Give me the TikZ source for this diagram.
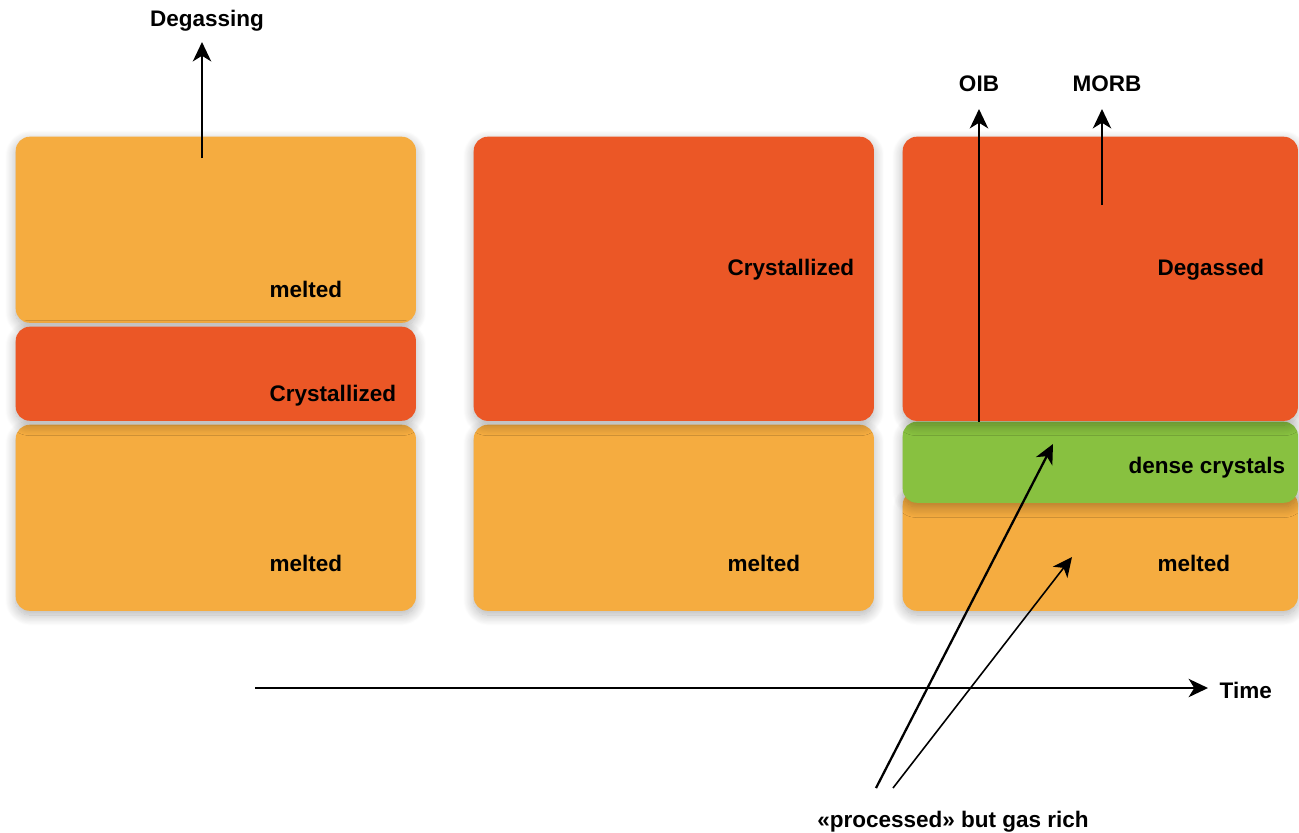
\documentclass[tikz,border=0pt]{standalone}
\usepackage{fontspec}
\setmainfont{Liberation Sans}
\usetikzlibrary{arrows.meta,shadows.blur}

\definecolor{meltorange}{HTML}{F5AC40}
\definecolor{crystred}{HTML}{EB5726}
\definecolor{densegreen}{HTML}{88C140}

\begin{document}
\begin{tikzpicture}[x=0.01cm, y=-0.01cm,
  every node/.style={font=\fontsize{6.4}{8}\selectfont\bfseries},
  layer/.style={rectangle, rounded corners=4pt, inner sep=0pt, anchor=north west,
    minimum width=4cm, blur shadow={shadow xshift=0pt, shadow yshift=-1.2pt,
    shadow blur steps=14, shadow blur radius=3pt, shadow opacity=30}},
  tag/.style={anchor=west, inner sep=0pt},
  flow/.style={-{Stealth[length=5.5pt,width=5.2pt,inset=1.6pt]}, line width=0.65pt}]
  \useasboundingbox (0,0) rectangle (1299,832);

  % first stage
  \node[layer, fill=meltorange, minimum height=1.86cm] (meltTopA) at (15,136) {};
  \node[layer, fill=meltorange, minimum height=1.86cm] (meltBotA) at (15,424) {};
  \node[layer, fill=crystred, minimum height=0.94cm] (crystA) at (15,326) {};
  \node[tag] (lblMeltTopA) at (269,289) {melted};
  \node[tag] (lblCrystA) at (269,396) {Crystallized};
  \node[tag] (lblMeltBotA) at (269,563) {melted};

  % second stage
  \node[layer, fill=meltorange, minimum height=1.86cm] (meltB) at (473,424) {};
  \node[layer, fill=crystred, minimum height=2.84cm] (crystB) at (473,136) {};
  \node[tag] (lblCrystB) at (727,270) {Crystallized};
  \node[tag] (lblMeltB) at (727,563) {melted};

  % third stage
  \node[layer, fill=meltorange, minimum width=3.95cm, minimum height=1.2cm] (meltC) at (902,490) {};
  \node[layer, fill=densegreen, minimum width=3.95cm, minimum height=0.81cm] (denseC) at (902,421) {};
  \node[layer, fill=crystred, minimum width=3.95cm, minimum height=2.84cm] (degasC) at (902,136) {};
  \node[tag] (lblDegasC) at (1157,270) {Degassed};
  \node[tag] (lblDenseC) at (1128,468) {dense crystals};
  \node[tag] (lblMeltC) at (1157,563) {melted};

  % outflows
  \node (lblDegassing) at (207,21) {Degassing};
  \coordinate (degasFoot) at (202,158);
  \coordinate (degasTip) at (202,42);
  \draw[flow] (degasFoot) -- (degasTip);

  \node (lblOIB) at (979,84) {OIB};
  \node (lblMORB) at (1107,84) {MORB};
  \coordinate (oibTip) at (979,109);
  \coordinate (morbFoot) at (1102,205);
  \coordinate (morbTip) at (1102,109);
  \draw[flow] (oibTip |- degasC.south) -- (oibTip);
  \draw[flow] (morbFoot) -- (morbTip);

  % time axis
  \coordinate (timeStart) at (255,688);
  \coordinate (timeEnd) at (1208,688);
  \node[tag] (lblTime) at (1219,690) {Time};
  \draw[flow] (timeStart) -- (timeEnd);

  % gas rich input
  \node (lblProc) at (953,822) {«processed» but gas rich};
  \coordinate (procA) at (876,788);
  \coordinate (procB) at (893,788);
  \coordinate (procTipA) at (1053,444);
  \coordinate (procTipB) at (1072,557);
  \draw[flow] (procA) -- (procTipA);
  \draw[flow, line width=0.45pt] (procB) -- (procTipB);
\end{tikzpicture}
\end{document}
